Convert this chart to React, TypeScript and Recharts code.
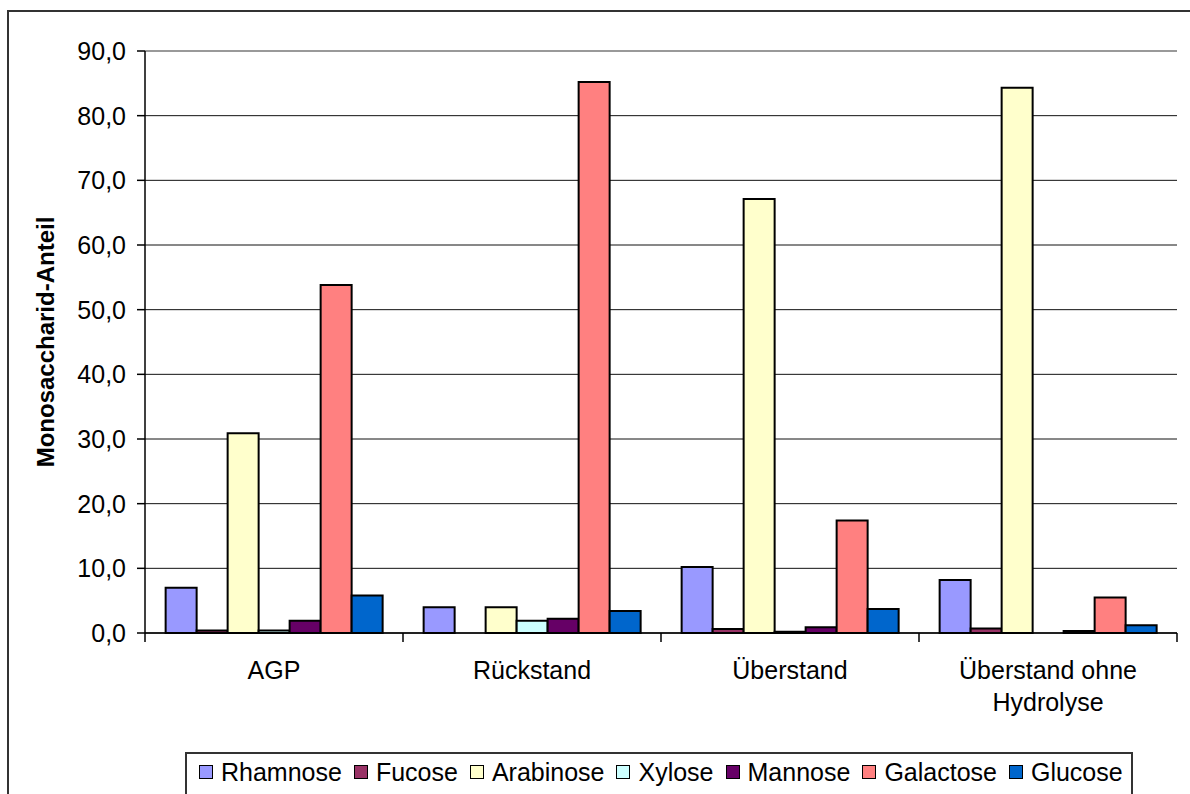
import React from 'react'
import { BarChart, Bar, XAxis, YAxis, CartesianGrid, Legend, ReferenceLine } from 'recharts'

const categories = ['AGP', 'Rückstand', 'Überstand', 'Überstand ohne Hydrolyse']

const rhamnose = [7.0, 4.0, 10.2, 8.2]
const fucose = [0.4, 0, 0.6, 0.7]
const arabinose = [30.9, 4.0, 67.1, 84.3]
const xylose = [0.4, 1.9, 0.2, 0]
const mannose = [1.9, 2.2, 0.9, 0.3]
const galactose = [53.8, 85.2, 17.4, 5.5]
const glucose = [5.8, 3.4, 3.7, 1.2]

const yTicks = [0, 10, 20, 30, 40, 50, 60, 70, 80, 90]

const series = [
  { key: 'Rhamnose', values: rhamnose, color: '#9999FF' },
  { key: 'Fucose', values: fucose, color: '#993366' },
  { key: 'Arabinose', values: arabinose, color: '#FFFFCC' },
  { key: 'Xylose', values: xylose, color: '#CCFFFF' },
  { key: 'Mannose', values: mannose, color: '#660066' },
  { key: 'Galactose', values: galactose, color: '#FF8080' },
  { key: 'Glucose', values: glucose, color: '#0066CC' },
]

const chartData = categories.map((name, i) => {
  const row: { [key: string]: string | number } = { name }
  series.forEach(s => { row[s.key] = s.values[i] })
  return row
})

const FONT = '"Liberation Sans", Arial, sans-serif'

// splits the long category name onto two lines like the original
const lineBreaks: { [key: string]: string[] } = {
  'Überstand ohne Hydrolyse': ['Überstand ohne', 'Hydrolyse'],
}

// category label plus Excel-style tick marks on the band edges
function CategoryTick(props: any) {
  const { x, y, payload, width, visibleTicksCount, index } = props
  const lines = lineBreaks[payload.value] || [payload.value]
  const half = width / visibleTicksCount / 2
  const last = index === visibleTicksCount - 1
  return (
    <g>
      <line x1={x - half} x2={x - half} y1={y} y2={y + 9} stroke="#000" strokeWidth={1.5} />
      {last && <line x1={x + half} x2={x + half} y1={y} y2={y + 9} stroke="#000" strokeWidth={1.5} />}
      <text x={x} y={y} textAnchor="middle" fontSize={25} fontFamily={FONT} fill="#000">
        {lines.map((l, i) => (
          <tspan key={i} x={x} y={y + 46 + i * 32}>{l}</tspan>
        ))}
      </text>
    </g>
  )
}

function YLabel(props: any) {
  const { viewBox } = props
  const cx = viewBox.x + 45
  const cy = viewBox.y + viewBox.height / 2
  return (
    <text
      x={cx}
      y={cy}
      transform={`rotate(-90 ${cx} ${cy})`}
      textAnchor="middle"
      dominantBaseline="central"
      fontSize={24}
      fontWeight="bold"
      fontFamily={FONT}
      fill="#000"
    >
      Monosaccharid-Anteil
    </text>
  )
}

function LegendBox() {
  return (
    <div
      style={{
        boxSizing: 'border-box',
        height: 50,
        border: '2px solid #333',
        display: 'flex',
        alignItems: 'flex-start',
        paddingTop: 3,
        paddingLeft: 12,
        fontFamily: FONT,
        fontSize: 25,
        lineHeight: '30px',
        color: '#000',
        whiteSpace: 'nowrap',
      }}
    >
      {series.map(s => (
        <span key={s.key} style={{ display: 'inline-flex', alignItems: 'center', marginRight: 12 }}>
          <span
            style={{
              display: 'inline-block',
              width: 12,
              height: 12,
              background: s.color,
              border: '1.5px solid #000',
              marginRight: 8,
            }}
          />
          {s.key}
        </span>
      ))}
    </div>
  )
}

export default function App() {
  return (
    <div
      style={{
        position: 'absolute',
        left: 0,
        top: 0,
        width: 1190,
        height: 794,
        overflow: 'hidden',
        background: '#fff',
      }}
    >
      <div
        style={{
          position: 'absolute',
          left: 7,
          top: 10,
          width: 1300,
          height: 900,
          border: '2px solid #333',
        }}
      />
      <div style={{ position: 'absolute', left: 0, top: 0 }}>
        <BarChart
          width={1190}
          height={794}
          data={chartData}
          margin={{ top: 51, right: 13, left: 0, bottom: 0 }}
          barCategoryGap="8%"
          barGap={0}
        >
          <CartesianGrid vertical={false} stroke="#111" strokeWidth={1} />
          <XAxis xAxisId="n" type="number" domain={[0, 4]} hide allowDataOverflow />
          <XAxis
            dataKey="name"
            height={111}
            tickLine={false}
            tickSize={0}
            tickMargin={0}
            interval={0}
            axisLine={{ stroke: '#000', strokeWidth: 1.5 }}
            tick={<CategoryTick />}
          />
          <YAxis
            width={145}
            domain={[0, 90]}
            ticks={yTicks}
            interval={0}
            tickSize={8}
            tickMargin={11}
            tickFormatter={(v: number) => v.toFixed(1).replace('.', ',')}
            tick={{ fontSize: 25, fontFamily: FONT, fill: '#000' }}
            axisLine={{ stroke: '#000', strokeWidth: 1.5 }}
            tickLine={{ stroke: '#000', strokeWidth: 1.5 }}
            label={<YLabel />}
          />
          <ReferenceLine y={90} stroke="#999" strokeWidth={2} />
          <ReferenceLine xAxisId="n" x={4} stroke="#999" strokeWidth={2} />
          {series.map(s => (
            <Bar
              key={s.key}
              dataKey={s.key}
              fill={s.color}
              stroke="#000"
              strokeWidth={2}
              isAnimationActive={false}
            />
          ))}
          <Legend
            content={<LegendBox />}
            wrapperStyle={{ left: 185, top: 752, bottom: 'auto', width: 948 }}
          />
        </BarChart>
      </div>
    </div>
  )
}
